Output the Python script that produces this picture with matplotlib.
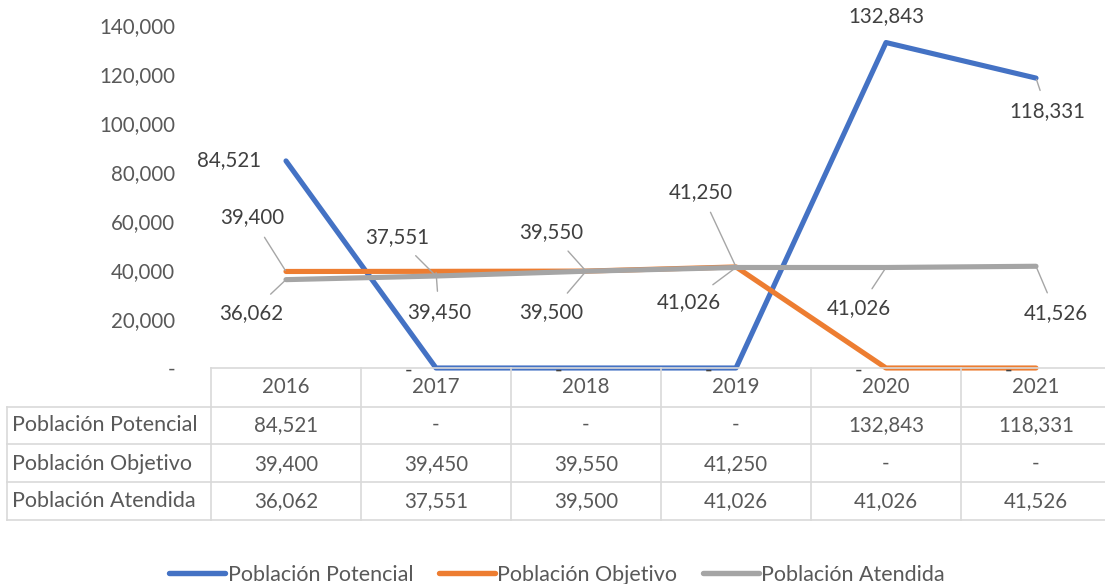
import matplotlib
matplotlib.use("Agg")
import matplotlib.pyplot as plt
from matplotlib.transforms import blended_transform_factory

# data
years = ["2016", "2017", "2018", "2019", "2020", "2021"]
names = ["Población Potencial", "Población Objetivo", "Población Atendida"]
potencial = [84521, 0, 0, 0, 132843, 118331]
objetivo = [39400, 39450, 39550, 41250, 0, 0]
atendida = [36062, 37551, 39500, 41026, 41026, 41526]
colors = ["#4472C4", "#ED7D31", "#A5A5A5"]

# label placement (pixel offsets from each point, leader line yes/no)
lab_pot = [(-25, 1, "right", False), (-27, -3, "center", False), (-27, -3, "center", False),
           (-27, -3, "center", False), (0, 26, "center", False), (11, -33, "center", True)]
lab_obj = [(-34, 54, "center", True), (3, -41, "center", True), (-35, 39, "center", True),
           (-35, 75, "center", True), (-27, -3, "center", False), (-27, -3, "center", False)]
lab_ate = [(-35, -33, "center", True), (-39, 39, "center", True), (-35, -41, "center", True),
           (-47, -35, "center", True), (-27, -41, "center", True), (20, -47, "center", True)]

plt.rcParams['font.family'] = ['Lato', 'DejaVu Sans']
FS = 14.8      # numbers
FS_TXT = 15.5  # row names / legend
TXT = "#595959"
LBL = "#404040"
GRID = "#D9D9D9"

W, H = 1105, 584
fig = plt.figure(figsize=(W / 100, H / 100), dpi=100)
# plot area in pixels: x 211..1111, y 25..368
ax = fig.add_axes([211 / W, (H - 368) / H, 900 / W, 343 / H])

x = list(range(len(years)))
all_series = [potencial, objetivo, atendida]
all_labels = [lab_pot, lab_obj, lab_ate]

for vals, col, name in zip(all_series, colors, names):
    ax.plot(x, vals, color=col, lw=3.7, solid_capstyle="round", solid_joinstyle="round",
            label=name, clip_on=False)


def fmt(v):
    return "-" if v == 0 else f"{v:,}"


for vals, labs in zip(all_series, all_labels):
    for xi, v, (dx, dy, ha, lead) in zip(x, vals, labs):
        arrow = None
        if lead:
            arrow = dict(arrowstyle="-", color="#A6A6A6", lw=1, shrinkA=6, shrinkB=1)
        ax.annotate(fmt(v), (xi, v), xytext=(dx, dy), textcoords="offset pixels",
                    ha=ha, va="center", fontsize=FS, color=LBL, arrowprops=arrow,
                    annotation_clip=False)

ax.set_xlim(-0.5, 5.5)
ax.set_ylim(0, 140000)
ax.set_yticks(range(0, 140001, 20000))
ax.set_yticklabels([fmt(t) for t in range(0, 140001, 20000)])
ax.tick_params(axis="y", length=0, pad=26, labelsize=FS, labelcolor=TXT)
ax.set_xticks([])
for s in ax.spines.values():
    s.set_visible(False)

# data table under the axis
tr = blended_transform_factory(ax.transData, fig.transFigure)
def fy(py):
    return (H - py) / H

row_lines = [368, 407, 444, 482, 520]
for py in row_lines:
    ax.plot([-0.5, 5.5], [fy(py), fy(py)], transform=tr, color=GRID, lw=1.2, clip_on=False)
for b in [i - 0.5 for i in range(len(years) + 1)]:
    ax.plot([b, b], [fy(368), fy(520)], transform=tr, color=GRID, lw=1.2, clip_on=False)
for py in row_lines[1:]:
    fig.add_artist(plt.Line2D([7 / W, 211 / W], [fy(py), fy(py)], color=GRID, lw=1.2))
fig.add_artist(plt.Line2D([7 / W, 7 / W], [fy(407), fy(520)], color=GRID, lw=1.2))

row_y = [425, 464, 501]
for xi, yr in zip(x, years):
    ax.text(xi, fy(387), yr, transform=tr, ha="center", va="center", fontsize=FS, color=TXT)
for name, vals, py in zip(names, all_series, row_y):
    fig.text(12 / W, fy(py), name, ha="left", va="center", fontsize=FS_TXT, color=TXT)
    for xi, v in zip(x, vals):
        ax.text(xi, fy(py), fmt(v), transform=tr, ha="center", va="center",
                fontsize=FS, color=TXT)

leg = fig.legend(loc="center", bbox_to_anchor=(557 / W, fy(575)), ncol=3, frameon=False,
                 fontsize=FS_TXT, handlelength=2.6, handletextpad=0.1, columnspacing=1.2,
                 labelcolor=TXT)
for h in leg.get_lines():
    h.set_linewidth(3.9)
    h.set_solid_capstyle("round")

fig.savefig("out.png", dpi=100)
